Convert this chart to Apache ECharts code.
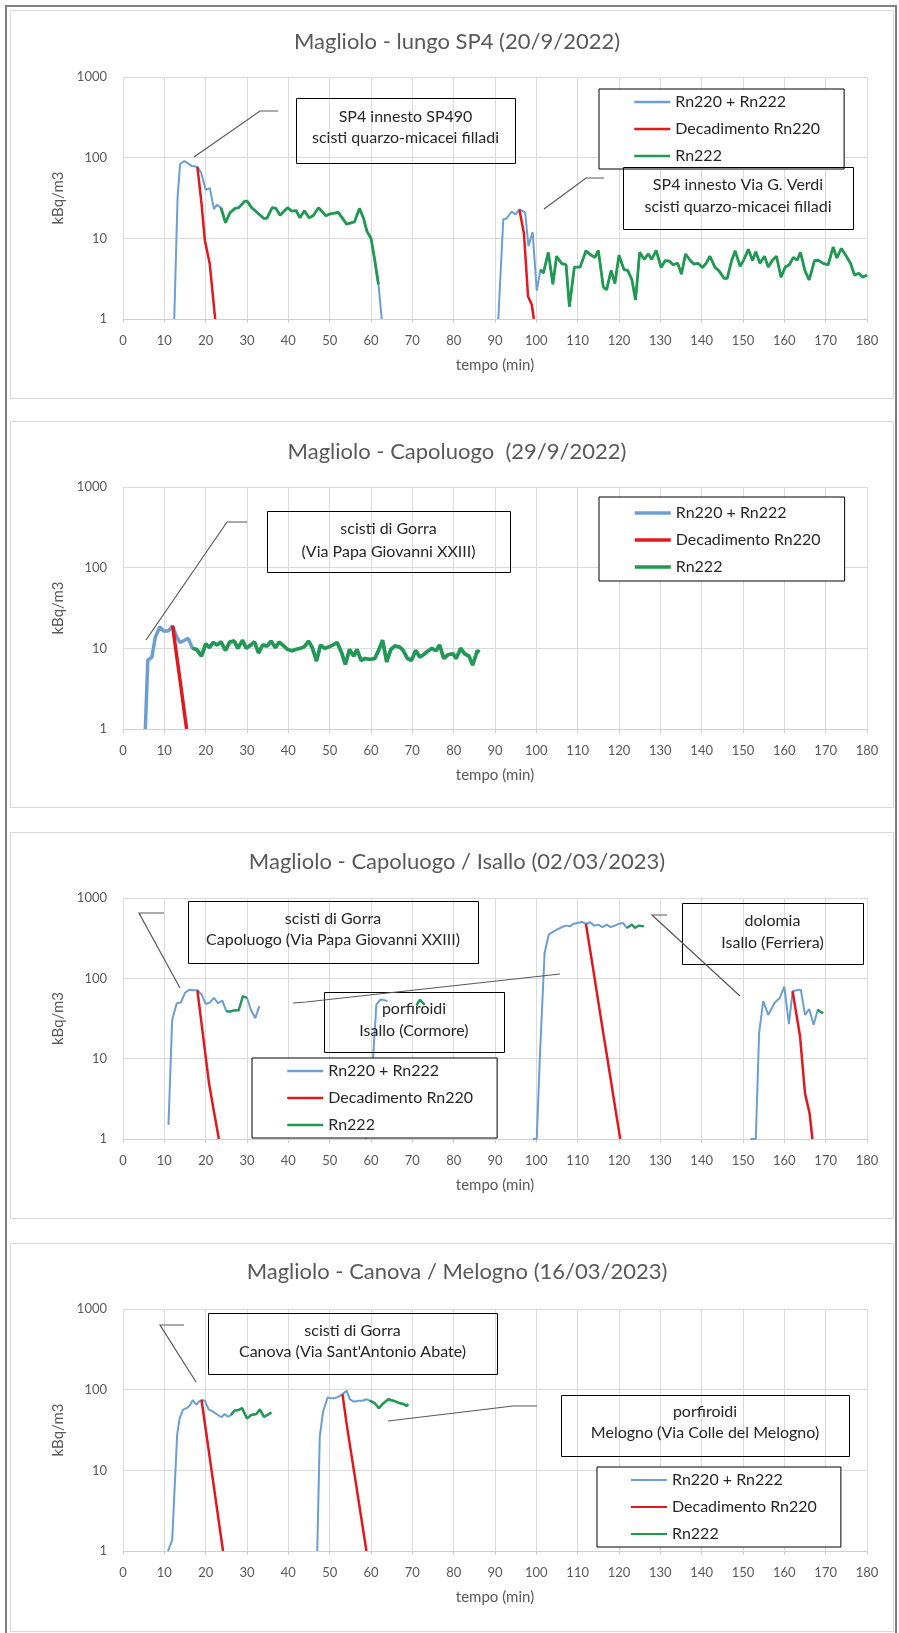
<!DOCTYPE html>
<html><head><meta charset="utf-8">
<script src="https://cdn.jsdelivr.net/npm/echarts@6/dist/echarts.min.js"></script>
<style>html,body{margin:0;padding:0;background:#fff}#c{width:899px;height:1633px}</style>
</head><body><div id="c"></div>
<script>
// ---------- DATA (time in minutes, values in kBq/m3; null = gap) ----------
const titles = ['Magliolo - lungo SP4 (20/9/2022)', 'Magliolo - Capoluogo  (29/9/2022)',
  'Magliolo - Capoluogo / Isallo (02/03/2023)', 'Magliolo - Canova / Melogno (16/03/2023)'];
const seriesNames = ['Rn220 + Rn222', 'Decadimento Rn220', 'Rn222'];
const xTicks = [0, 180, 10];          // min, max, step
const yTicks = [1, 1000];             // log axis range

// Panel 1
const p1BlueT = [12.4,13.2,13.8,14.8,15.4,16.6,18,18.9,20,21,22,22.7,62.6,75,90.8,92,92.8,94,95,95.9,96.7,97.3,98.1,99.1,100.1];
const p1BlueV = [1,32,83,91,87,79,77,65,40,42,23,26,1,null,1,17.2,17.6,21.4,19.8,22.8,21.7,20.8,8,12,2.24];
const p1GreenT = [23.7,24.8,25.9,27.1,28,29.5,30,31.1,32,34,34.8,36.1,37,38,39.8,40.8,41.9,42.8,43.9,45,46,47.3,48,49.1,50,52.1,54.1,56,57.2,58.2,59,60,60.8,61.8,80,
  101,101.7,102.9,104,104.9,106.1,107.2,108,109.2,110.6,112,113.2,114.2,115,116.2,117,118.1,119,120,121.2,122.1,123.1,124,125,126.1,127.1,127.9,129,130.2,131.2,
  132.2,133.1,134.2,135.1,136.1,137.2,138.1,139.1,140.2,141.2,142,143.2,144.2,145.4,146.2,147.2,148.1,149.3,150.1,151.3,152.3,153.1,154.1,155.2,156.1,157.1,158.1,159.2,160.2,161.2,
  162.2,163.1,163.9,165,166,167.3,168.2,169.4,170.6,171.8,172.7,173.8,175,176,177,178,179,180];
const p1GreenV = [24,15.6,20.8,23.5,24,29,29,24,22,17.7,17.7,24,23.5,19.3,24,21.8,22,18,22,18,19,24,22,19,20,21,15,16,23.5,17.7,12.3,10,5.8,2.7,null,
  4.1,3.7,6.7,2.7,6,4.9,4.7,1.42,4.4,4.4,7,6.2,5.8,7.1,2.5,2.3,4,2.76,6.2,4.1,4,3.1,1.72,6.7,5.5,6.4,5.5,7.1,4.35,5.3,
  5.2,4.7,4.9,3.6,6.4,5.35,4.8,4.9,4.35,5,6,4.4,3.95,3.2,3.2,5.2,7,4.5,5.3,7.3,5.3,6.8,4.9,6,4.4,5.3,6,3.3,4.4,4.7,
  5.8,5.35,6.7,3.95,3.05,5.3,5.35,4.9,4.7,7.8,5.7,7.5,6,4.9,3.5,3.7,3.3,3.5];
const p1RedT = [18,19,19.8,21,22.3,60,95.9,97,98,98.9,99.4];
const p1RedV = [77,27,9.5,4.8,1,null,22.8,11.5,1.9,1.5,1];

// Panel 2
const p2BlueT = [5.4,6,7,7.8,8.9,9.8,11,12,12.9,13.8,14.9,15.8];
const p2BlueV = [1,7.1,7.8,13.6,18.4,16.4,16.4,19,14.2,11.8,12.6,13.3];
const p2GreenT = [16.8,17.8,19,20,20.9,21.8,22.8,23.7,24.8,25.8,26.9,27.8,28.9,29.8,30.9,31.8,32.8,33.8,34.9,35.8,
  36.9,37.8,38.9,39.8,40.9,41.8,42.8,43.8,44.9,45.8,46.8,47.8,48.8,49.8,50.8,51.8,52.9,53.8,54.8,55.8,
  56.6,57.6,58.6,59.7,60.9,61.8,62.8,63.8,64.8,65.8,66.9,67.8,68.8,69.8,70.8,71.8,72.8,73.8,74.8,75.7,
  76.6,77.6,78.6,79.8,80.6,81.7,82.6,83.7,84.6,85.7,86.3];
const p2GreenV = [10,9.7,8,11.4,10.2,11.8,11,12,9.4,12,12.3,10,12.6,10,11,12,8.8,11,10.7,12.3,
  10.2,12,10.7,9.7,9.3,9.7,10,10.4,12.3,10.2,6.95,11,10,10.4,11,11.8,8.8,6.3,9.7,8,
  9.7,7.1,7.5,7.3,7.5,9.3,12.6,6.8,9.7,10.7,10.4,9.4,7.5,7.1,9.4,7.8,8.4,9.3,10,9.3,
  11,7.5,8.3,8.6,7.5,10,8.6,8,6.2,9.3,9];
const p2RedT = [12,13,14,15,15.4];
const p2RedV = [19,8,3.4,1.4,1];

// Panel 3
const p3BlueT = [11,11.9,13,14,15,16,17,18,19,20,21,22,23,24,31,32,33,45,58.8,60.5,61.3,62.2,63,64,67,
  99.2,100.1,100.9,102,103,104.2,105.1,106.2,107.2,108.2,109,110,111,112,113,114,115,116,117,118,119,120,121,140,
  151.8,153.1,153.9,154.9,156.1,157.7,158.9,160,161.1,162,163,164,165,166,167.1,168.1];
const p3BlueV = [1.5,30.5,49,50,66,72,71,71,63,48,50,57,49,53,40,32,45,null,1,10,47,54,54,52,null,
  1,1,12,207,350,385,406,435,453,444,479,488,502,479,498,453,466,435,466,435,453,479,488,null,
  1,1,21,52,35,50,57,79,27,69,71,72,35,41.5,26.5,41];
const p3GreenT = [25,26,27,28,29,30,50,71,71.8,73,90,121.9,123.1,123.9,124.8,126,140,168.1,168.6,169.4];
const p3GreenV = [39,38.6,40,40,60,57,null,46,54,47,null,424,466,424,453,444,null,41,38.5,37];
const p3RedT = [18,19,20,20.8,22,23.2,60,112,113,114,115,116,117,118,119,120.3,140,162,163.8,165,166.1,166.8];
const p3RedV = [71,27.5,10.6,5,2.2,1,null,479,228,108,51,24,11.6,5.5,2.6,1,null,69,19,3.7,2.1,1];

// Panel 4
const p4BlueT = [10.9,11.9,13.1,13.7,14.5,15.6,16.1,16.9,17.7,18.4,19,19.8,20.7,21.8,22.6,23.8,24.6,25.4,40,
  47,47.6,48.4,49.5,50.4,51.2,52.2,53.1,54.1,54.9,55.9,56.9,57.9,58.9];
const p4BlueV = [1,1.36,27.5,44,56,60,63,74.5,65,71,74.5,73,57,53.5,50,45.5,50,46,null,
  1,26,53.5,80,78,78,82,88,97,76,71,73,73,76];
const p4GreenT = [26.1,27,28,28.8,30,31,32.3,33.1,34.1,34.9,35.9,45,59.7,60.9,61.9,63,64.2,65.4,66.6,67.8,68.6,69];
const p4GreenV = [48.5,55,56,59,44,48.5,50,57,46,48.5,52,null,73,68,59,68,76,73,69,66.5,63,66];
const p4RedT = [19,20,21,22,23,24.2,40,53.1,54,55,56,57,58,58.9];
const p4RedV = [74.5,32.5,14.2,6.2,2.7,1,null,88,41,19,9,4.2,1.97,1];

// ---------- STYLE / LAYOUT ----------
const BLUE = '#6b9fd3', RED = '#e3181c', GREEN = '#1f9a50';
const FONT = 'Lato';
const panels = [
  {blue:[p1BlueT,p1BlueV], green:[p1GreenT,p1GreenV], red:[p1RedT,p1RedV], top:77, h:242, titleY:42, w:[2,2.5,2.8]},
  {blue:[p2BlueT,p2BlueV], green:[p2GreenT,p2GreenV], red:[p2RedT,p2RedV], top:487, h:242, titleY:452, w:[3.5,3.5,3.5]},
  {blue:[p3BlueT,p3BlueV], green:[p3GreenT,p3GreenV], red:[p3RedT,p3RedV], top:898, h:241, titleY:862, w:[2,2.5,2.2]},
  {blue:[p4BlueT,p4BlueV], green:[p4GreenT,p4GreenV], red:[p4RedT,p4RedV], top:1309, h:242, titleY:1272, w:[2,2.5,2.5]}
];
function pairs(a){ return a[0].map((t,i)=>[t, a[1][i]==null ? '-' : a[1][i]]); }
function merged(b,g){ return pairs(b).concat(pairs(g)).sort((p,q)=>p[0]-q[0]); }

const grid=[], xAxis=[], yAxis=[], series=[], title=[];
panels.forEach((p,i)=>{
  grid.push({left:123, width:744, top:p.top, height:p.h});
  xAxis.push({type:'value', gridIndex:i, min:xTicks[0], max:xTicks[1], interval:xTicks[2],
    name:'tempo (min)', nameLocation:'middle', nameGap:39,
    nameTextStyle:{fontSize:15, color:'#595959', fontFamily:FONT},
    axisLine:{show:true, lineStyle:{color:'#d0d0d0'}},
    axisTick:{show:true, length:4, lineStyle:{color:'#d0d0d0'}},
    axisLabel:{fontSize:13, color:'#595959', margin:15, fontFamily:FONT},
    splitLine:{show:true, lineStyle:{color:'#dadada'}}});
  yAxis.push({type:'log', logBase:10, gridIndex:i, min:yTicks[0], max:yTicks[1],
    name:'kBq/m3', nameLocation:'middle', nameGap:53,
    nameTextStyle:{fontSize:15, color:'#595959', fontFamily:FONT},
    axisLine:{show:false}, axisTick:{show:false},
    axisLabel:{fontSize:13, color:'#595959', margin:16, fontFamily:FONT, formatter:v=>String(Math.round(v))},
    splitLine:{show:true, lineStyle:{color:'#dadada'}}});
  title.push({text:titles[i], left:457, textAlign:'center', top:p.titleY-13, padding:0,
    textStyle:{fontSize:22, fontWeight:'normal', color:'#595959', fontFamily:FONT, lineHeight:26}});
  const common = {type:'line', xAxisIndex:i, yAxisIndex:i, symbol:'none', showSymbol:false,
    connectNulls:false, silent:true, animation:false};
  series.push(Object.assign({}, common, {name:seriesNames[0], data:merged(p.blue,p.green), z:2,
    lineStyle:{color:BLUE, width:p.w[0]}, itemStyle:{color:BLUE}}));
  series.push(Object.assign({}, common, {name:seriesNames[1], data:pairs(p.red), z:3,
    lineStyle:{color:RED, width:p.w[1]}, itemStyle:{color:RED}}));
  series.push(Object.assign({}, common, {name:seriesNames[2], data:pairs(p.green), z:4,
    lineStyle:{color:GREEN, width:p.w[2]}, itemStyle:{color:GREEN}}));
});

// legends (box positions)
const legendBoxes = [
  {x:599, y:89, pt:5, pb:5, pl:34, lw:2.5},
  {x:599, y:497, pt:8, pb:6, pl:34, lw:3.5},
  {x:252, y:1058, pt:5, pb:5, pl:34, lw:2.5},
  {x:597, y:1467, pt:5, pb:5, pl:33, lw:2}
];
const legend = legendBoxes.map(b=>({
  left:b.x, top:b.y, orient:'vertical', data:seriesNames.slice(), selectedMode:false,
  itemWidth:36, itemHeight:14, itemGap:11,
  padding:[b.pt, 24, b.pb, b.pl], borderColor:'#000', borderWidth:1, backgroundColor:'#fff',
  lineStyle:{width:b.lw}, itemStyle:{opacity:0, borderWidth:0},
  textStyle:{fontSize:16, color:'#262626', fontFamily:FONT, width:155}
}));

// annotation boxes, leader lines, panel frames
const boxes = [
  {x:296, y:98, w:219, h:65, lines:['SP4 innesto SP490','scisti quarzo-micacei filladi'], ty:[116.7,138.3]},
  {x:623, y:167, w:230, h:62, lines:['SP4 innesto Via G. Verdi','scisti quarzo-micacei filladi'], ty:[185,206.7]},
  {x:267, y:511, w:243, h:61, lines:['scisti di Gorra','(Via Papa Giovanni XXIII)'], ty:[529.3,551.7]},
  {x:188, y:901, w:290, h:62, lines:['scisti di Gorra','Capoluogo (Via Papa Giovanni XXIII)'], ty:[919,940]},
  {x:324, y:992, w:180, h:60, lines:['porfiroidi','Isallo (Cormore)'], ty:[1009.3,1030.7]},
  {x:682, y:903, w:181, h:61, lines:['dolomia','Isallo (Ferriera)'], ty:[920.7,942.7]},
  {x:208, y:1313, w:289, h:61, lines:['scisti di Gorra',"Canova (Via Sant'Antonio Abate)"], ty:[1330.7,1352.3]},
  {x:561, y:1395, w:288, h:61, lines:['porfiroidi','Melogno (Via Colle del Melogno)'], ty:[1412.3,1433.3]}
];
const leaders = [
  [[194,157],[260,111],[278,111]],
  [[544,209],[586,178],[604,178]],
  [[146,640],[227,522],[247,522]],
  [[180,988],[139,913],[164,913]],
  [[293,1003],[306,1002],[560,974]],
  [[667,915],[652,915],[740,996]],
  [[196,1382],[160,1325],[184,1325]],
  [[388,1421],[513,1406],[537,1406]]
];
const frames = [[10,10,883,388],[10,421,883,386],[10,832,883,386],[10,1243,883,388]];

const graphic = [];
graphic.push({type:'rect', shape:{x:6,y:6,width:890,height:1640}, style:{fill:'none', stroke:'#808080', lineWidth:2}, z:0, silent:true});
frames.forEach(f=>graphic.push({type:'rect', shape:{x:f[0]+0.5,y:f[1]+0.5,width:f[2],height:f[3]},
  style:{fill:'none', stroke:'#d9d9d9', lineWidth:1}, z:0, silent:true}));
boxes.forEach(b=>{
  graphic.push({type:'rect', shape:{x:b.x+0.5,y:b.y+0.5,width:b.w,height:b.h},
    style:{fill:'none', stroke:'#000', lineWidth:1}, z:10, silent:true});
  b.lines.forEach((t,k)=>graphic.push({type:'text', x:b.x+b.w/2, y:b.ty[k], z:11, silent:true,
    style:{text:t, fill:'#262626', font:'16px '+FONT, align:'center', verticalAlign:'middle',
      textAlign:'center', textVerticalAlign:'middle'}}));
});
leaders.forEach(pts=>graphic.push({type:'polyline', shape:{points:pts},
  style:{stroke:'#595959', lineWidth:1.2, fill:null}, z:10, silent:true}));

const chart = echarts.init(document.getElementById('c'), null, {renderer:'canvas'});
chart.setOption({
  animation:false, backgroundColor:'#fff',
  textStyle:{fontFamily:FONT},
  title, grid, xAxis, yAxis, series, legend, graphic
});
</script></body></html>
